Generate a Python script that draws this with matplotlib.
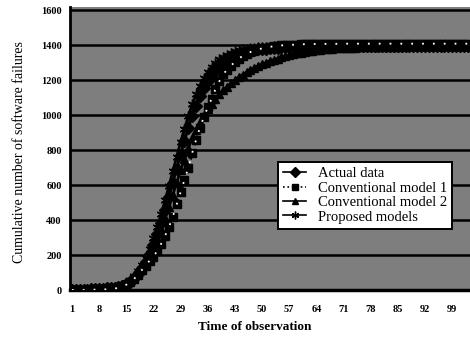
import matplotlib
matplotlib.use("Agg")
import matplotlib.pyplot as plt
import numpy as np

times = list(range(1, 104))
tick_labels = [str(t) for t in range(1, 100, 7)]
y_ticks = [0, 200, 400, 600, 800, 1000, 1200, 1400, 1600]

actual_data = [
    0, 0, 1, 1, 2, 3, 4, 5, 7, 9,
    11, 13, 15, 22, 33, 48, 68, 93, 124, 162,
    207, 259, 318, 384, 456, 533, 613, 694, 775, 853,
    927, 995, 1056, 1110, 1157, 1197, 1231, 1259, 1283, 1302,
    1318, 1331, 1342, 1351, 1358, 1364, 1369, 1373, 1377, 1380,
    1382, 1384, 1386, 1388, 1389, 1390, 1391, 1392, 1392, 1393,
    1393, 1394, 1394, 1394, 1395, 1395, 1395, 1395, 1396, 1396,
    1396, 1396, 1396, 1397, 1397, 1397, 1397, 1397, 1397, 1397,
    1398, 1398, 1398, 1398, 1398, 1398, 1398, 1398, 1398, 1398,
    1398, 1398, 1398, 1398, 1398, 1398, 1398, 1398, 1398, 1398,
    1398, 1398, 1398,
]

conventional_1 = [
    0, 0, 0, 0, 1, 1, 2, 2, 3, 4,
    5, 8, 13, 20, 30, 45, 63, 87, 114, 140,
    168, 190, 225, 265, 310, 360, 420, 490, 560, 630,
    700, 785, 860, 930, 990, 1045, 1095, 1150, 1195, 1235,
    1262, 1285, 1305, 1325, 1340, 1352, 1362, 1370, 1377, 1383,
    1388, 1392, 1395, 1398, 1400, 1402, 1403, 1404, 1405, 1406,
    1407, 1407, 1408, 1408, 1408, 1409, 1409, 1409, 1409, 1410,
    1410, 1410, 1410, 1410, 1410, 1410, 1410, 1410, 1410, 1410,
    1410, 1410, 1410, 1410, 1410, 1410, 1410, 1410, 1410, 1410,
    1410, 1410, 1410, 1410, 1410, 1410, 1410, 1410, 1410, 1410,
    1410, 1410, 1410,
]

conventional_2 = [
    0, 1, 1, 2, 3, 4, 5, 7, 9, 12,
    15, 19, 24, 29, 35, 50, 70, 95, 125, 160,
    200, 245, 295, 350, 410, 475, 545, 615, 685, 750,
    812, 868, 918, 962, 1001, 1036, 1067, 1095, 1120, 1143,
    1164, 1183, 1201, 1217, 1232, 1246, 1259, 1271, 1282, 1292,
    1301, 1310, 1318, 1325, 1332, 1338, 1344, 1349, 1354, 1358,
    1362, 1366, 1369, 1372, 1375, 1377, 1379, 1381, 1383, 1384,
    1385, 1386, 1387, 1388, 1389, 1389, 1390, 1390, 1391, 1391,
    1392, 1392, 1393, 1393, 1393, 1393, 1394, 1394, 1394, 1394,
    1394, 1395, 1395, 1395, 1395, 1395, 1395, 1395, 1395, 1395,
    1395, 1395, 1395,
]

proposed = [
    0, 0, 1, 1, 2, 2, 3, 4, 5, 7,
    10, 14, 20, 29, 41, 58, 80, 108, 143, 186,
    237, 296, 362, 435, 513, 595, 679, 763, 845, 923,
    996, 1062, 1120, 1170, 1213, 1249, 1278, 1302, 1321, 1336,
    1348, 1358, 1366, 1372, 1377, 1381, 1384, 1387, 1389, 1391,
    1392, 1393, 1394, 1395, 1395, 1396, 1396, 1397, 1397, 1397,
    1398, 1398, 1398, 1398, 1398, 1399, 1399, 1399, 1399, 1399,
    1399, 1399, 1399, 1399, 1399, 1399, 1399, 1399, 1399, 1399,
    1400, 1400, 1400, 1400, 1400, 1400, 1400, 1400, 1400, 1400,
    1400, 1400, 1400, 1400, 1400, 1400, 1400, 1400, 1400, 1400,
    1400, 1400, 1400,
]

serif = ["Liberation Serif", "DejaVu Serif"]

fig = plt.figure(figsize=(4.70, 3.38), dpi=100)
ax = fig.add_axes([70 / 470, 1 - 290 / 338, 400 / 470, 283 / 338])
ax.set_facecolor("#7e7e7e")

for y in y_ticks[1:]:
    ax.axhline(y, color="black", linewidth=1.8, zorder=1)

ms = 6
lw = 2
ax.plot(times, actual_data, color="black", lw=lw, marker="D", ms=ms, label="Actual data", zorder=3)
ax.plot(times, conventional_1, color="black", lw=lw, ls=":", marker="s", ms=ms, label="Conventional model 1", zorder=3)
ax.plot(times, conventional_2, color="black", lw=lw, marker="^", ms=ms, label="Conventional model 2", zorder=3)
ax.plot(times, proposed, color="black", lw=lw, marker=(6, 2, 0), ms=ms + 1, label="Proposed models", zorder=3)
ax.plot(times, conventional_1, color="white", lw=1.3, ls=(0, (1, 5)), zorder=4)

ax.set_xlim(0.5, 103.6)
ax.set_ylim(0, 1620)
ax.set_xticks(range(1, 100, 7))
ax.set_xticklabels(tick_labels, fontfamily=serif, fontweight="bold", fontsize=7.5)
ax.set_yticks(y_ticks)
ax.set_yticklabels([str(v) for v in y_ticks], fontfamily=serif, fontweight="bold", fontsize=7.5)
ax.tick_params(length=0)
ax.tick_params(axis="y", pad=6)
ax.tick_params(axis="x", pad=11)

for side in ["top", "right"]:
    ax.spines[side].set_visible(False)
ax.spines["left"].set_linewidth(2)
ax.spines["bottom"].set_linewidth(2.5)

leg = ax.legend(loc="upper left", bbox_to_anchor=(0.52, 0.452), frameon=True,
                fancybox=False, edgecolor="black", facecolor="white", framealpha=1,
                prop={"family": serif, "size": 10.5}, handlelength=1.6,
                borderpad=0.35, labelspacing=0.08, handletextpad=0.8,
                borderaxespad=0, markerscale=0.8)
leg.get_frame().set_linewidth(1.4)
for line in leg.get_lines():
    line.set_linewidth(1.2)

fig.text(20 / 470, 1 - 152 / 338, "Cumulative number of software failures",
         rotation=90, ha="center", va="center", fontfamily=serif, fontsize=10)
fig.text(255 / 470, 1 - 327 / 338, "Time of observation",
         ha="center", va="center", fontfamily=serif, fontsize=9.5, fontweight="bold")

fig.savefig("out.png", dpi=100)
